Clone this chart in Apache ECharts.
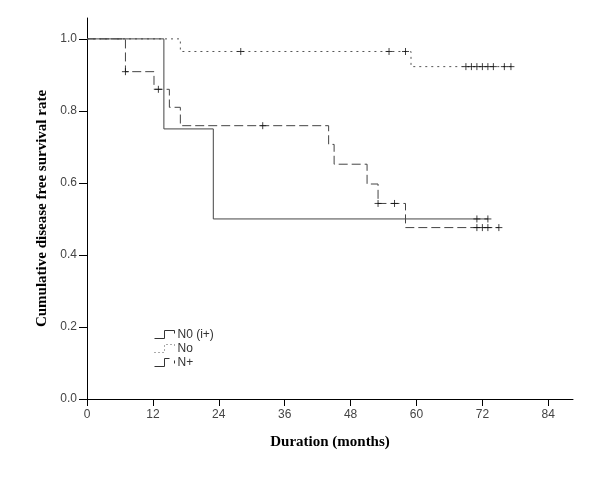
<!DOCTYPE html>
<html>
<head>
<meta charset="utf-8">
<script src="https://cdn.jsdelivr.net/npm/echarts@6/dist/echarts.min.js"></script>
<style>html,body{margin:0;padding:0;background:#fff}#c{width:600px;height:497px}</style>
</head>
<body>
<div id="c"></div>
<script>
// Tick labels
const xTicks = [0, 12, 24, 36, 48, 60, 72, 84];
const yTicks = [0, 0.2, 0.4, 0.6, 0.8, 1.0];

// Series names
const seriesNames = ['N0 (i+)', 'No', 'N+'];

// Kaplan-Meier steps [months, survival]
const n0Steps = [[0, 1], [14, 0.75], [23, 0.5], [73, 0.5]];
const noSteps = [[0, 1], [17, 0.965], [59, 0.923], [77.6, 0.923]];
const npSteps = [[0, 1], [7, 0.909], [12.2, 0.86], [15, 0.81], [17, 0.759], [44, 0.707], [45, 0.652], [51, 0.597], [53, 0.543], [58, 0.476], [75, 0.476]];

// Censored observations [months, survival]
const n0Censored = [[71, 0.5], [73, 0.5]];
const noCensored = [[28, 0.965], [55, 0.965], [58, 0.965], [69, 0.923], [70, 0.923], [71, 0.923], [72, 0.923], [73, 0.923], [74, 0.923], [76, 0.923], [77.2, 0.923]];
const npCensored = [[7, 0.909], [13, 0.86], [32, 0.759], [53, 0.543], [56, 0.543], [71, 0.476], [72, 0.476], [73, 0.476], [75, 0.476]];

const chart = echarts.init(document.getElementById('c'), null, {renderer: 'canvas'});
const plus = 'path://M0,5L10,5M5,0L5,10';
const censorStyle = {color: 'none', borderColor: '#111', borderWidth: 1};
function censorSeries(name, data) {
  return {name: name, type: 'scatter', data: data, symbol: plus, symbolSize: 7,
    itemStyle: censorStyle, silent: true, z: 5, legendHoverLink: false};
}
const option = {
  backgroundColor: '#fff',
  animation: false,
  grid: {left: 87, right: 27, top: 18, bottom: 98},
  legend: {
    orient: 'vertical', left: 147, top: 323, itemWidth: 20, itemHeight: 8, itemGap: 1,
    textStyle: {fontFamily: 'Liberation Sans', fontSize: 12, color: '#333', padding: [0, 0, 0, -2]},
    data: [
      {name: seriesNames[0], icon: 'path://M0,8L10,8L10,0L20,0L20,3', itemStyle: {color: 'none', borderColor: '#333', borderWidth: 1}},
      {name: seriesNames[1], icon: 'path://M0,8L10,8L10,0L20,0L20,3', itemStyle: {color: 'none', borderColor: '#555', borderWidth: 1, borderType: [1, 3]}},
      {name: seriesNames[2], icon: 'path://M0,8L10,8L10,0L15,0M20,2L20,5', itemStyle: {color: 'none', borderColor: '#333', borderWidth: 1}}
    ]
  },
  xAxis: {
    type: 'value', min: 0, max: 88.5,
    name: 'Duration (months)', nameLocation: 'middle', nameGap: 36,
    nameTextStyle: {fontFamily: 'Liberation Serif', fontWeight: 'bold', fontSize: 15, color: '#000'},
    axisLine: {lineStyle: {color: '#000', width: 1}},
    axisTick: {length: 7, lineStyle: {color: '#000'}, customValues: xTicks},
    axisLabel: {customValues: xTicks, fontFamily: 'Liberation Sans', fontSize: 12, color: '#444', margin: 10},
    splitLine: {show: false}
  },
  yAxis: {
    type: 'value', min: 0, max: 1.058,
    name: 'Cumulative disease free survival rate', nameLocation: 'middle', nameGap: 34,
    nameTextStyle: {fontFamily: 'Liberation Serif', fontWeight: 'bold', fontSize: 15, color: '#000'},
    axisLine: {show: true, lineStyle: {color: '#000', width: 1}},
    axisTick: {show: true, length: 8, lineStyle: {color: '#000'}, customValues: yTicks},
    axisLabel: {customValues: yTicks, fontFamily: 'Liberation Sans', fontSize: 12, color: '#444', margin: 10,
      formatter: v => v.toFixed(1)},
    splitLine: {show: false}
  },
  series: [
    {name: seriesNames[2], type: 'line', step: 'end', data: npSteps, showSymbol: false, symbol: 'none',
      lineStyle: {color: '#444', width: 1, type: [9, 4]}, itemStyle: {color: '#444'}, silent: true, z: 2},
    {name: seriesNames[1], type: 'line', step: 'end', data: noSteps, showSymbol: false, symbol: 'none',
      lineStyle: {color: '#555', width: 1, type: [2, 4]}, itemStyle: {color: '#555'}, silent: true, z: 2},
    {name: seriesNames[0], type: 'line', step: 'end', data: n0Steps, showSymbol: false, symbol: 'none',
      lineStyle: {color: '#444', width: 1}, itemStyle: {color: '#444'}, silent: true, z: 3},
    censorSeries(seriesNames[2], npCensored),
    censorSeries(seriesNames[1], noCensored),
    censorSeries(seriesNames[0], n0Censored)
  ]
};
chart.setOption(option);
</script>
</body>
</html>
